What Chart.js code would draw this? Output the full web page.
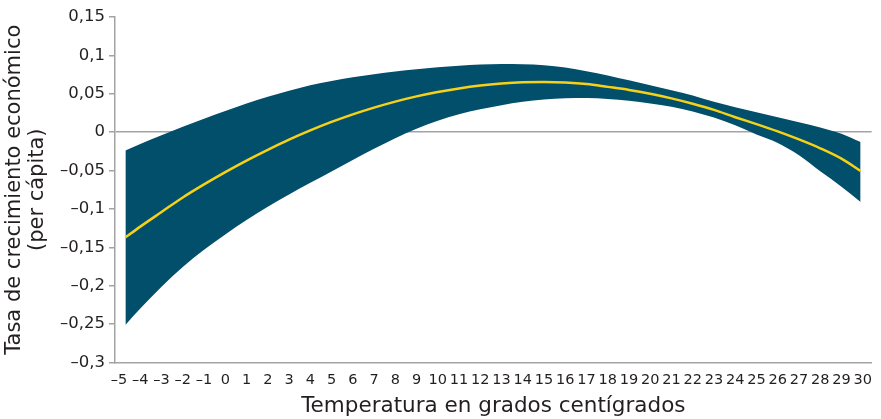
<!DOCTYPE html>
<html>
<head>
<meta charset="utf-8">
<script src="https://cdn.jsdelivr.net/npm/chart.js@4"></script>
<style>
  html, body { margin: 0; padding: 0; background: #fff; }
  #wrap { width: 881px; height: 419px; }
</style>
</head>
<body>
<div id="wrap"><canvas id="chart" width="881" height="419"></canvas></div>
<script>
// temperature points (°C)
const temps = [-4.7, -4, -3, -2, -1, 0, 1, 2, 3, 4, 5, 6, 7, 8, 9, 10, 11, 12, 13, 14,
  15, 16, 17, 18, 19, 20, 21, 22, 23, 24, 25, 26, 27, 28, 29, 29.9];

// central estimate (yellow line)
const growth = [-0.137, -0.123, -0.104, -0.085, -0.068, -0.052, -0.037, -0.023, -0.0097, 0.0023,
  0.0133, 0.0232, 0.032, 0.0398, 0.0466, 0.0523, 0.057, 0.0607, 0.0633, 0.065,
  0.0655, 0.0648, 0.0628, 0.059, 0.055, 0.050, 0.044, 0.037, 0.029, 0.0195,
  0.0105, 0.001, -0.0095, -0.021, -0.0345, -0.0505];

// confidence band
const upper = [-0.024, -0.0155, -0.004, 0.007, 0.0175, 0.0275, 0.0372, 0.0462, 0.054, 0.0612,
  0.0668, 0.0715, 0.0755, 0.079, 0.082, 0.0845, 0.0865, 0.088, 0.0887, 0.0886,
  0.0873, 0.0843, 0.0795, 0.0738, 0.0675, 0.061, 0.0545, 0.0478, 0.0395, 0.0325,
  0.026, 0.0195, 0.013, 0.0062, -0.002, -0.0128];
const lower = [-0.251, -0.2297, -0.2012, -0.1757, -0.1532, -0.1332, -0.1144, -0.0972, -0.0812, -0.066,
  -0.0511, -0.0363, -0.0217, -0.0079, 0.0043, 0.0148, 0.0233, 0.0298, 0.035, 0.0395,
  0.0425, 0.0443, 0.0445, 0.0433, 0.0408, 0.0373, 0.033, 0.027, 0.019, 0.009,
  -0.003, -0.014, -0.030, -0.051, -0.071, -0.091];

const xTitle = 'Temperatura en grados centígrados';
const yTitle = ['Tasa de crecimiento económico', '(per cápita)'];

const toPts = arr => arr.map((v, i) => ({ x: temps[i], y: v }));
// decimal comma and en dash minus, as in the original
const fmt = v => (Math.round(v * 100) / 100).toString().replace('.', ',').replace('-', '\u2013');

const axisGrey = '#a3a3a3';
const textCol = '#231f20';
const band = '#024f6c';
const face = 'DejaVu Sans';

new Chart(document.getElementById('chart'), {
  type: 'line',
  data: {
    datasets: [
      {
        label: 'Estimación',
        data: toPts(growth),
        borderColor: '#f7d117',
        borderWidth: 2.5,
        pointRadius: 0,
        cubicInterpolationMode: 'monotone',
        fill: false
      },
      {
        label: 'Superior',
        data: toPts(upper),
        borderWidth: 0,
        borderColor: band,
        backgroundColor: band,
        pointRadius: 0,
        cubicInterpolationMode: 'monotone',
        fill: '+1'
      },
      {
        label: 'Inferior',
        data: toPts(lower),
        borderWidth: 0,
        borderColor: band,
        pointRadius: 0,
        cubicInterpolationMode: 'monotone',
        fill: false
      }
    ]
  },
  options: {
    responsive: false,
    animation: false,
    layout: { padding: { top: 17, right: 5, left: 0, bottom: 0 } },
    plugins: {
      legend: { display: false },
      tooltip: { enabled: false }
    },
    scales: {
      x: {
        type: 'linear',
        min: -5.19,
        max: 30.42,
        afterFit: axis => { axis.height = 56.5; },
        border: { color: axisGrey, width: 1.5 },
        grid: { drawOnChartArea: false, drawTicks: false },
        ticks: {
          stepSize: 1,
          includeBounds: false,
          autoSkip: false,
          maxRotation: 0,
          padding: 9,
          color: textCol,
          font: { family: face, size: 14.5 },
          callback: v => fmt(v)
        },
        title: {
          display: true,
          text: xTitle,
          color: textCol,
          font: { family: face, size: 21.5 },
          padding: { top: 3, bottom: 0 }
        }
      },
      y: {
        min: -0.3,
        max: 0.15,
        z: 1,
        afterFit: axis => { axis.width = 115; },
        border: { color: axisGrey, width: 1.5 },
        grid: {
          color: c => (c.tick && Math.abs(c.tick.value) < 1e-9) ? axisGrey : 'rgba(0,0,0,0)',
          lineWidth: 1.5,
          tickColor: axisGrey,
          tickLength: 6,
          drawTicks: true
        },
        ticks: {
          stepSize: 0.05,
          padding: 4,
          color: textCol,
          font: { family: face, size: 16.5 },
          callback: v => fmt(v)
        },
        title: {
          display: true,
          text: yTitle,
          color: textCol,
          font: { family: face, size: 21, lineHeight: 1.1 },
          padding: { top: 3, bottom: 0 }
        }
      }
    }
  }
});
</script>
</body>
</html>
